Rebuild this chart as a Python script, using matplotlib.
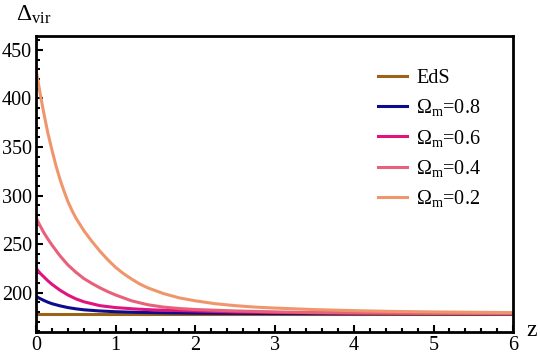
import numpy as np
import matplotlib.pyplot as plt
from matplotlib.ticker import MultipleLocator

plt.rcParams['font.family'] = ['Liberation Serif', 'DejaVu Serif']
plt.rcParams['mathtext.fontset'] = 'custom'
plt.rcParams['mathtext.rm'] = 'Liberation Serif'
plt.rcParams['mathtext.it'] = 'Liberation Serif:italic'

# Redshift and virial overdensity
z_eds = [0, 6]
d_eds = [177.65, 177.65]

z_08 = [0, 0.05, 0.1, 0.15, 0.2, 0.3, 0.4, 0.5, 0.6, 0.8, 1.0, 1.25, 1.5, 2, 3, 4, 6]
d_08 = [196, 193.8, 191.8, 190, 188.5, 186.3, 184.5, 183.2, 182.2, 181, 180.2, 179.6,
        179.2, 178.7, 178.3, 178.1, 178]

z_06 = [0, 0.05, 0.1, 0.15, 0.2, 0.3, 0.4, 0.5, 0.6, 0.8, 1.0, 1.25, 1.5, 2, 2.5, 3,
        4, 5, 6]
d_06 = [225, 220, 216, 212, 208.5, 202.5, 197.5, 193.5, 190.5, 186.5, 184.5, 183, 182,
        181, 180, 179.5, 178.8, 178.4, 178.2]

z_04 = [0, 0.05, 0.1, 0.15, 0.2, 0.3, 0.4, 0.5, 0.6, 0.7, 0.8, 0.9, 1.0, 1.2, 1.4, 1.6,
        1.8, 2.0, 2.5, 3, 3.5, 4, 5, 6]
d_04 = [277, 269, 261.5, 255, 249, 238, 228.5, 221, 214.5, 209.5, 205, 201, 197.5, 191.5,
        187.5, 185, 183.5, 182.5, 181, 180, 179.3, 179, 178.5, 178.2]

z_02 = [0, 0.05, 0.1, 0.15, 0.2, 0.25, 0.3, 0.35, 0.4, 0.45, 0.5, 0.6, 0.7, 0.8, 0.9,
        1.0, 1.1, 1.2, 1.3, 1.4, 1.6, 1.8, 2.0, 2.25, 2.5, 2.75, 3, 3.5, 4, 4.5, 5, 6]
d_02 = [430, 406, 384, 364, 347, 331, 317, 305, 294, 285, 277, 264, 253, 243, 234,
        226, 219.5, 214, 209, 205, 199, 194.5, 191.5, 188.5, 186.5, 185, 184, 182.4,
        181.3, 180.5, 180, 179.3]

fig = plt.figure(figsize=(5.4, 3.59), dpi=100)
ax = fig.add_axes([0.0667, 0.0752, 0.8833, 0.8245])

ax.plot(z_eds, d_eds, color='#9A6414', lw=2.2, label='EdS')
ax.plot(z_08, d_08, color='#0C0C8C', lw=2.2, label=r'$\Omega_{\rm m}$=0.8')
ax.plot(z_06, d_06, color='#E0147F', lw=2.2, label=r'$\Omega_{\rm m}$=0.6')
ax.plot(z_04, d_04, color='#E8607A', lw=2.2, label=r'$\Omega_{\rm m}$=0.4')
ax.plot(z_02, d_02, color='#F0966C', lw=2.2, label=r'$\Omega_{\rm m}$=0.2')

ax.set_xlim(0, 6)
ax.set_ylim(159.3, 464.4)
ax.xaxis.set_major_locator(MultipleLocator(1))
ax.xaxis.set_minor_locator(MultipleLocator(0.2))
ax.yaxis.set_major_locator(MultipleLocator(50))
ax.yaxis.set_minor_locator(MultipleLocator(10))
ax.set_yticks([200, 250, 300, 350, 400, 450])
ax.tick_params(which='both', direction='in', top=False, right=False,
               labelsize=14.5, width=1.5, pad=3)
ax.tick_params(which='major', length=5)
ax.tick_params(which='minor', length=3)
for s in ax.spines.values():
    s.set_linewidth(2)

fig.text(0.03, 0.958, r'$\Delta_{\rm vir}$', fontsize=17, va='center')
fig.text(0.974, 0.08, 'z', fontsize=17, va='center')

ax.legend(loc='upper left', bbox_to_anchor=(0.70, 0.807), bbox_transform=fig.transFigure,
          frameon=False, fontsize=14.5, handlelength=1.45, handletextpad=0.45,
          labelspacing=0.45, borderpad=0, borderaxespad=0)

fig.savefig('out.png')
